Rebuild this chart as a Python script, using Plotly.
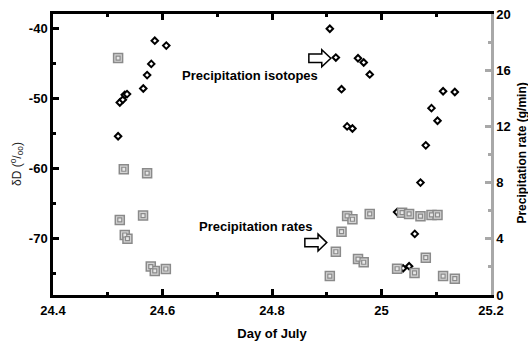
import plotly.graph_objects as go

# ---- data ----
iso_day = [24.5189, 24.5220, 24.5275, 24.5311, 24.5352, 24.5649, 24.5719, 24.5795, 24.5859, 24.6069,
           24.9056, 24.9166, 24.9270, 24.9372, 24.9469, 24.9571, 24.9675, 24.9785,
           25.0285, 25.0394, 25.0504, 25.0608, 25.0712, 25.0809, 25.0913, 25.1023, 25.1125, 25.1339]
iso_dD = [-55.4, -50.6, -50.2, -49.5, -49.4, -48.6, -46.7, -45.1, -41.8, -42.5,
          -40.1, -44.2, -48.7, -54.0, -54.3, -44.3, -44.9, -46.6,
          -66.2, -74.2, -73.9, -69.3, -62.0, -56.7, -51.4, -53.2, -49.0, -49.1]

rate_day = [24.5189, 24.5220, 24.5293, 24.5311, 24.5360, 24.5645, 24.5719, 24.5786, 24.5859, 24.6061,
            24.9056, 24.9166, 24.9270, 24.9372, 24.9469, 24.9571, 24.9675, 24.9785,
            25.0285, 25.0376, 25.0504, 25.0603, 25.0712, 25.0809, 25.0913, 25.1023, 25.1125, 25.1339]
rate_gmin = [16.86, 5.34, 8.95, 4.27, 4.01, 5.65, 8.67, 2.02, 1.71, 1.85,
             1.35, 3.08, 4.51, 5.63, 5.39, 2.56, 2.33, 5.77,
             1.87, 5.86, 5.77, 1.57, 5.61, 2.66, 5.70, 5.70, 1.35, 1.16]

x_ticks = [24.4, 24.6, 24.8, 25.0, 25.2]
x_ticklabels = ["24.4", "24.6", "24.8", "25", "25.2"]
y_ticks = [-70, -60, -50, -40]
y_ticklabels = ["-70", "-60", "-50", "-40"]
y2_ticks = [0, 4, 8, 12, 16, 20]
y2_ticklabels = ["0", "4", "8", "12", "16", "20"]

FONT = "Liberation Sans, Arial, sans-serif"
GREY = "#a8a8a8"

fig = go.Figure()

fig.add_trace(go.Scatter(
    x=iso_day, y=iso_dD, mode="markers", yaxis="y",
    marker=dict(symbol="diamond", size=5, color="white",
                line=dict(color="black", width=2)),
    showlegend=False, hoverinfo="skip"))

fig.add_trace(go.Scatter(
    x=rate_day, y=rate_gmin, mode="markers", yaxis="y2",
    marker=dict(symbol="square", size=9, color="#d4d4d4",
                line=dict(color="#8a8a8a", width=1.5)),
    showlegend=False, hoverinfo="skip"))
fig.add_trace(go.Scatter(
    x=rate_day, y=rate_gmin, mode="markers", yaxis="y2",
    marker=dict(symbol="square", size=4, color="#e8e8e8",
                line=dict(color="#8a8a8a", width=1.2)),
    showlegend=False, hoverinfo="skip"))


def arrow_path(x_tail, x_tip, y_c, head_len, head_h, body_h):
    xh = x_tip - head_len
    pts = [(x_tail, y_c + body_h), (xh, y_c + body_h), (xh, y_c + head_h), (x_tip, y_c),
           (xh, y_c - head_h), (xh, y_c - body_h), (x_tail, y_c - body_h)]
    return "M " + " L ".join(f"{a},{b}" for a, b in pts) + " Z"


shapes = [
    dict(type="path", xref="x", yref="y",
         path=arrow_path(24.8673, 24.9074, -44.30, 0.0165, 1.21, 0.60),
         fillcolor="white", line=dict(color="black", width=1.5)),
    dict(type="path", xref="x", yref="y",
         path=arrow_path(24.8600, 24.9001, -70.54, 0.0160, 1.21, 0.60),
         fillcolor="white", line=dict(color="black", width=1.5)),
]

annotations = [
    dict(x=24.7595, y=-46.79, xref="x", yref="y", text="Precipitation isotopes",
         showarrow=False, font=dict(family=FONT, size=13, color="black", weight="bold")),
    dict(x=24.7704, y=-68.27, xref="x", yref="y", text="Precipitation rates",
         showarrow=False, font=dict(family=FONT, size=13, color="black", weight="bold")),
    dict(x=-0.0822, y=0.466, xref="paper", yref="paper", textangle=-90,
         text="δD (<sup>o</sup>/<sub>oo</sub>)", showarrow=False,
         xanchor="center", yanchor="middle",
         font=dict(family=FONT, size=12, color="#222222")),
    dict(x=1.071, y=0.5036, xref="paper", yref="paper", textangle=-90,
         text="Precipitation rate (g/min)", showarrow=False,
         xanchor="center", yanchor="middle",
         font=dict(family=FONT, size=12, color="black", weight="bold")),
]

tickfont = dict(family=FONT, size=13, color="black", weight="bold")

fig.update_layout(
    width=528, height=341,
    margin=dict(l=53, r=37, t=14, b=46),
    paper_bgcolor="white", plot_bgcolor="white",
    showlegend=False,
    shapes=shapes, annotations=annotations,
    xaxis=dict(
        range=[24.4, 25.2], tickvals=x_ticks, ticktext=x_ticklabels,
        ticks="inside", ticklen=6, tickwidth=2.5, tickcolor="black",
        showline=True, linewidth=2.5, linecolor="black", mirror="ticks",
        showgrid=False, zeroline=False, tickfont=tickfont, automargin=False,
        ticklabelstandoff=2,
        minor=dict(ticks="inside", ticklen=3, tickwidth=2.5, tickcolor="black",
                   dtick=0.1, tick0=24.4, showgrid=False),
        title=dict(text="Day of July", font=dict(family=FONT, size=13, color="black", weight="bold"),
                   standoff=13),
    ),
    yaxis=dict(
        range=[-78, -38], tickvals=y_ticks, ticktext=y_ticklabels,
        ticks="inside", ticklen=6, tickwidth=2.5, tickcolor="black",
        showline=True, linewidth=2.5, linecolor="black",
        showgrid=False, zeroline=False, tickfont=tickfont, automargin=False,
        minor=dict(ticks="inside", ticklen=3, tickwidth=2.5, tickcolor="black",
                   dtick=5, tick0=-40, showgrid=False),
    ),
    yaxis2=dict(
        overlaying="y", side="right",
        range=[0, 20], tickvals=y2_ticks, ticktext=y2_ticklabels,
        ticks="inside", ticklen=6, tickwidth=2.5, tickcolor=GREY,
        showline=True, linewidth=2.5, linecolor=GREY,
        showgrid=False, zeroline=False, tickfont=tickfont, automargin=False,
        minor=dict(ticks="inside", ticklen=3, tickwidth=2.5, tickcolor=GREY,
                   dtick=2, tick0=0, showgrid=False),
    ),
)

# remove the browser's default 8px page margin so the 528x341 figure fills the window
fig.write_html("out.html", config={"displayModeBar": False},
               post_script="document.body.style.margin='0';")
